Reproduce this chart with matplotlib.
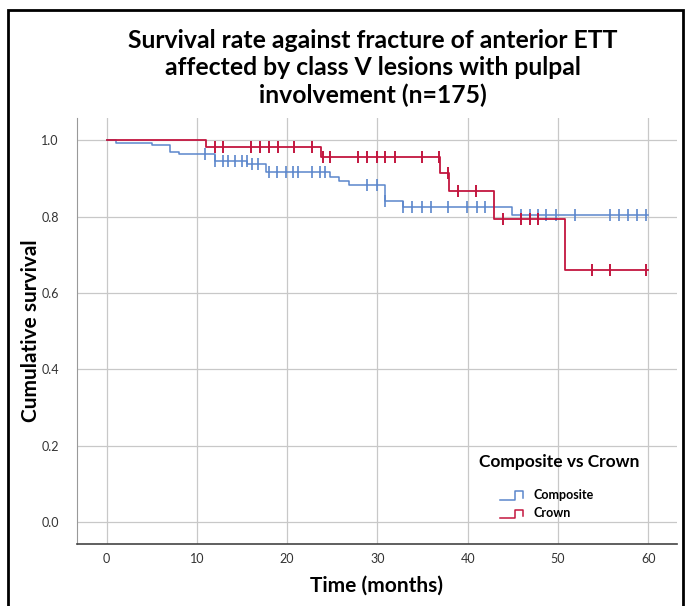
import numpy as np
import matplotlib.pyplot as plt
from matplotlib.lines import Line2D
from matplotlib.patches import Rectangle

# Kaplan-Meier step values
comp_t = [0, 1, 5, 7, 8, 12, 15.6, 17.7, 24.7, 25.8, 26.9, 30.8, 32.8, 44.9, 60]
comp_s = [1.0, 0.994, 0.987, 0.969, 0.963, 0.945, 0.937, 0.917, 0.904, 0.893,
          0.882, 0.841, 0.825, 0.804, 0.804]
comp_cens = [10.9, 12, 12.9, 13.5, 14.2, 15, 15.5, 16.1, 16.8, 18, 18.9, 19.9,
             20.6, 21.2, 22.8, 23.6, 24.2, 28.9, 29.9, 30.8, 32.8, 33.8, 34.9,
             35.9, 37.8, 39.9, 41, 41.9, 45.9, 46.9, 47.8, 48.7, 49.8, 51.9,
             55.8, 56.8, 57.8, 58.8, 59.8]

crown_t = [0, 11, 23.8, 36.9, 37.9, 42.9, 50.8, 60]
crown_s = [1.0, 0.983, 0.955, 0.914, 0.866, 0.793, 0.661, 0.661]
crown_cens = [12, 12.9, 16, 17, 18, 19, 20.8, 22.8, 24, 24.7, 27.8, 28.9, 29.9,
              30.8, 31.9, 34.9, 36.8, 37.8, 38.9, 40.9, 43.9, 45.9, 46.9, 47.8,
              53.8, 55.8, 59.8]

x_ticks = [0, 10, 20, 30, 40, 50, 60]
y_ticks = [0.0, 0.2, 0.4, 0.6, 0.8, 1.0]

blue = '#5b86cc'
red = '#c3163f'
font = 'Lato'


def surv_at(times, surv, t):
    idx = np.searchsorted(times, t, side='right') - 1
    return np.asarray(surv)[idx]


fig = plt.figure(figsize=(6.86, 6.06), dpi=100)
ax = fig.add_axes([0.112, 0.102, 0.875, 0.703])

ax.step(comp_t, comp_s, where='post', color=blue, lw=1.1, zorder=3)
ax.plot(comp_cens, surv_at(comp_t, comp_s, comp_cens), ls='none', marker='|',
        ms=8, mew=1.2, color=blue, zorder=3)
ax.step(crown_t, crown_s, where='post', color=red, lw=1.3, zorder=4)
ax.plot(crown_cens, surv_at(crown_t, crown_s, crown_cens), ls='none', marker='|',
        ms=8, mew=1.4, color=red, zorder=4)

ax.set_xlim(-3.3, 63.2)
ax.set_ylim(-0.058, 1.058)
ax.set_xticks(x_ticks)
ax.set_yticks(y_ticks)
ax.set_yticklabels([f'{v:.1f}' for v in y_ticks])
ax.grid(True, color='#c8c8c8', lw=0.9)
ax.set_axisbelow(True)
ax.tick_params(length=0, labelsize=9, labelcolor='#333333')
ax.tick_params(axis='y', pad=13)
ax.tick_params(axis='x', pad=6)
for lab in ax.get_xticklabels() + ax.get_yticklabels():
    lab.set_family(font)
for s in ['top', 'right']:
    ax.spines[s].set_visible(False)
ax.spines['left'].set_color('#999999')
ax.spines['bottom'].set_color('#444444')
ax.spines['bottom'].set_linewidth(1.2)

ax.set_xlabel('Time (months)', fontsize=15, fontweight='bold', family=font)
ax.set_ylabel('Cumulative survival', fontsize=15, fontweight='bold', family=font)
ax.xaxis.set_label_coords(0.5, -0.073)
ax.yaxis.set_label_coords(-0.06, 0.5)

fig.text(0.543, 0.888, 'Survival rate against fracture of anterior ETT\n'
         'affected by class V lesions with pulpal\ninvolvement (n=175)',
         ha='center', va='center', fontsize=17.8, fontweight='bold', family=font,
         linespacing=1.22)

# legend drawn by hand so the icons look like small steps
ax.text(0.803, 0.192, 'Composite vs Crown', transform=ax.transAxes, ha='center',
        va='center', fontsize=12.5, fontweight='bold', family=font)
for i, (lab, c) in enumerate([('Composite', blue), ('Crown', red)]):
    yy = 0.113 - i * 0.043
    ax.add_line(Line2D([0.705, 0.73, 0.73, 0.743, 0.743],
                       [yy - 0.009, yy - 0.009, yy + 0.011, yy + 0.011, yy - 0.004],
                       transform=ax.transAxes, color=c, lw=1.1))
    ax.text(0.76, yy + 0.003, lab, transform=ax.transAxes, ha='left', va='center',
            fontsize=9, fontweight='bold', family=font)

fig.add_artist(Rectangle((0.012, -0.05), 0.984, 1.033, transform=fig.transFigure,
                         fill=False, ec='black', lw=2))

fig.savefig('out.png', dpi=100)
